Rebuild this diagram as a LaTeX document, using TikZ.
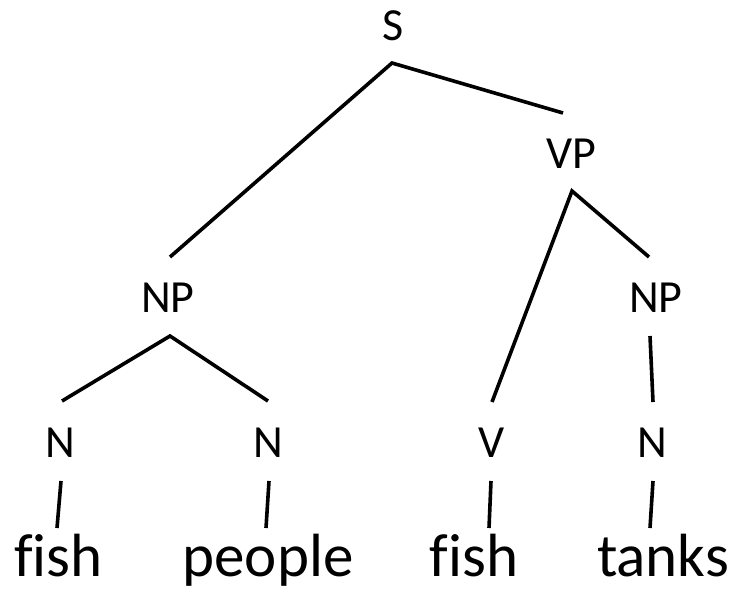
\documentclass[tikz,border=0pt]{standalone}
\usepackage{fontspec}
\setmainfont{Carlito}[Ligatures=NoCommon]
\begin{document}
\begin{tikzpicture}[x=1pt,y=-1pt,
  lab/.style={anchor=base,inner sep=0pt,font=\fontsize{46}{52}\selectfont},
  word/.style={anchor=base,inner sep=0pt,font=\fontsize{61}{70}\selectfont},
  edge/.style={line width=3.6pt,line cap=butt}]
\useasboundingbox (0,0) rectangle (738,592);
% labels
\node[lab] (S) at (393,40) {S};
\node[lab] (VP) at (571,168) {VP};
\node[lab] (NPl) at (168,312) {NP};
\node[lab] (NPr) at (656,312) {NP};
\node[lab] (N1) at (60,457) {N};
\node[lab] (N2) at (268,457) {N};
\node[lab] (V) at (492,457) {V};
\node[lab] (N3) at (652,457) {N};
\node[word] (w1) at (58.5,576) {fish};
\node[word] (w2) at (268,576) {people};
\node[word] (w3) at (474,576) {fish};
\node[word] (w4) at (663,576) {tanks};
% connector end points
\coordinate (Sb) at (392,63);
\coordinate (VPt) at (563,113);
\coordinate (VPb) at (572,191);
\coordinate (NPlt) at (170,257);
\coordinate (NPlb) at (170,336);
\coordinate (NPrt) at (649,257);
\coordinate (NPrb) at (650,336);
\coordinate (N1t) at (62,401);
\coordinate (N1b) at (61,481);
\coordinate (N2t) at (268,401);
\coordinate (N2b) at (269,481);
\coordinate (Vt) at (492,402);
\coordinate (Vb) at (491,481);
\coordinate (N3t) at (653,402);
\coordinate (N3b) at (653,481);
\coordinate (w1t) at (57,528);
\coordinate (w2t) at (266,528);
\coordinate (w3t) at (489,528);
\coordinate (w4t) at (650,528);
% connectors
\draw[edge] (NPlt) -- (Sb) -- (VPt);
\draw[edge] (Vt) -- (VPb) -- (NPrt);
\draw[edge] (N1t) -- (NPlb) -- (N2t);
\draw[edge] (NPrb) -- (N3t);
\draw[edge] (N1b) -- (w1t);
\draw[edge] (N2b) -- (w2t);
\draw[edge] (Vb) -- (w3t);
\draw[edge] (N3b) -- (w4t);
\end{tikzpicture}
\end{document}
